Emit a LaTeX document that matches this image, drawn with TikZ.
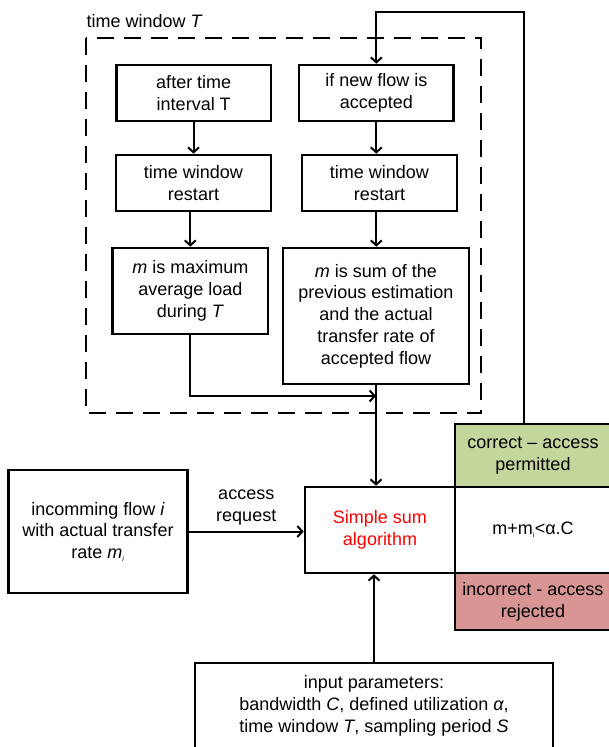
\documentclass[tikz,border=0pt]{standalone}
\usepackage{fontspec}
\setmainfont{Liberation Sans}
\usetikzlibrary{arrows.meta,positioning}

\definecolor{okgreen}{HTML}{C3D69B}
\definecolor{nored}{HTML}{D99594}

\begin{document}
\begin{tikzpicture}[x=1pt,y=1pt,
    box/.style={draw,line width=2.6pt,align=center,inner sep=0pt,font=\fontsize{18}{21.7}\selectfont},
    flow/.style={line width=2pt,-{Straight Barb[length=5pt,width=11pt,line width=2pt]}},
    window/.style={line width=2.6pt,dash pattern=on 17pt off 10pt}]
    \clip (0,0) rectangle (609,-747);
    \draw[window] (86,-38) rectangle (481,-413);
    \node[anchor=west,font=\fontsize{18}{21.7}\selectfont] (wlabel) at (83,-21) {time window \textit{T}};
    \node[box,minimum width=154.5pt,minimum height=56pt] (after) at (193.75,-93) {after time\\interval T};
    \node[box,minimum width=154.5pt,minimum height=56pt] (newflow) at (376.3,-93) {if new flow is\\accepted};
    \node[box,minimum width=155pt,minimum height=56pt] (restartA) at (193.5,-183) {time window\\restart};
    \node[box,minimum width=155pt,minimum height=56pt] (restartB) at (379.5,-183) {time window\\restart};
    \node[box,minimum width=155.4pt,minimum height=86pt] (maxload) at (190.3,-291) {\textit{m} is maximum\\average load\\during \textit{T}};
    \node[box,minimum width=186pt,minimum height=136pt] (sumest) at (376,-316) {\textit{m} is sum of the\\previous estimation\\and the actual\\transfer rate of\\accepted flow};
    \node[box,minimum width=150pt,minimum height=86pt,text=red] (algo) at (380,-530) {Simple sum\\algorithm};
    \node[box,minimum width=164pt,minimum height=86pt,right=-2.6pt of algo] (cond) {\hspace*{-8pt}m+m\textsubscript{\scriptsize i}<α.C};
    \node[box,fill=okgreen,minimum width=164pt,minimum height=63pt,above=-2.6pt of cond] (permit) {\hspace*{-8pt}correct – access\\\hspace*{-8pt}permitted};
    \node[box,fill=nored,minimum width=164pt,minimum height=57pt,below=-2.6pt of cond] (reject) {\hspace*{-8pt}incorrect - access\\\hspace*{-8pt}rejected};
    \node[box,minimum width=179pt,minimum height=123pt] (incoming) at (98,-531.5) {incomming flow \textit{i}\\with actual transfer\\rate \textit{m\textsubscript{\scriptsize i}}};
    \node[box,minimum width=358pt,minimum height=86pt] (params) at (374,-706) {input parameters:\\bandwidth \textit{C}, defined utilization \textit{α},\\time window \textit{T}, sampling period \textit{S}};
    \coordinate (fb) at (524,-12);
    \coordinate (join) at (376,-396);
    \draw[flow] (after.south -| restartA.north) -- (restartA.north);
    \draw[flow] (restartA.south -| maxload.north) -- (maxload.north);
    \draw[flow] (newflow.south) -- (newflow.south |- restartB.north);
    \draw[flow] (restartB.south -| newflow.south) -- (sumest.north -| newflow.south);
    \draw[flow] (maxload.south) |- (join);
    \draw[flow] (sumest.south) -- (sumest.south |- algo.north);
    \draw[flow] (incoming.east) -- node[above=2pt,align=center,font=\fontsize{18}{21.7}\selectfont] (req) {access\\request} (algo.west |- incoming.east);
    \draw[flow] (params.north) -- (params.north |- algo.south);
    \draw[flow] (fb |- permit.north) -- (fb) -| (newflow.north);
\end{tikzpicture}
\end{document}
